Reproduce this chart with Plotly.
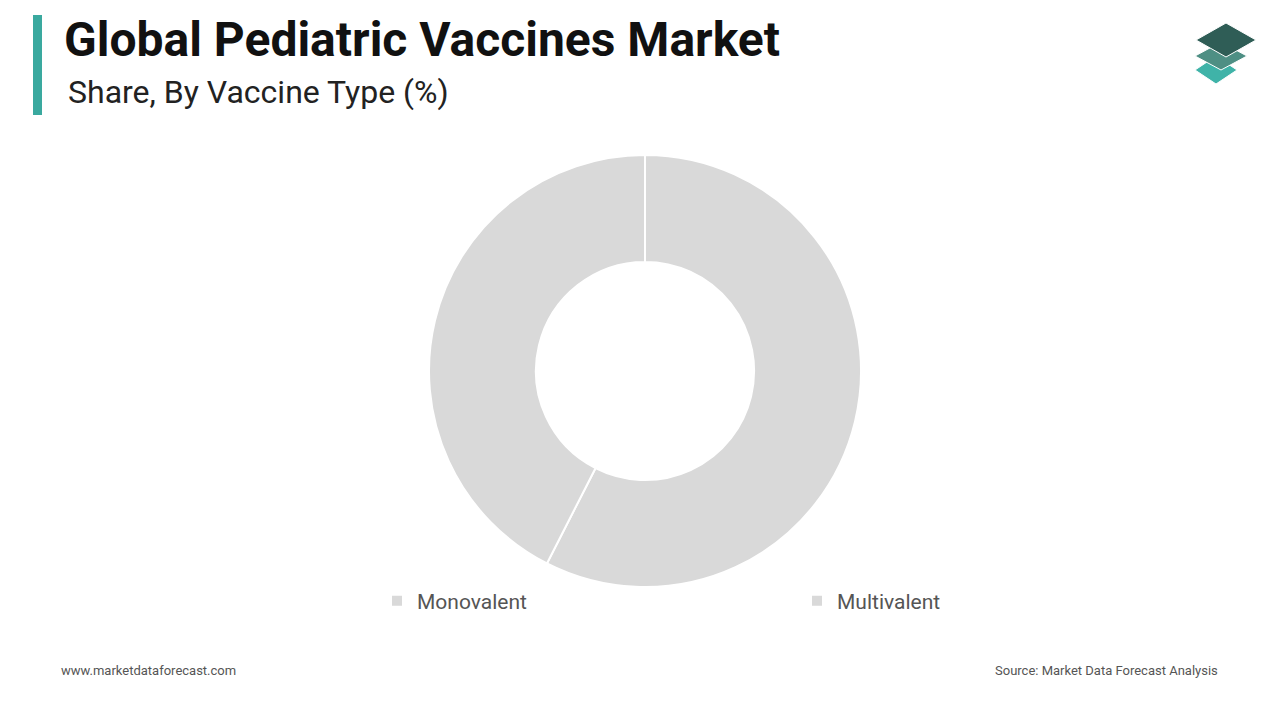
import plotly.graph_objects as go

labels = ["Multivalent", "Monovalent"]
shares = [57.5, 42.5]
colors = ["#d9d9d9", "#d9d9d9"]

W, H, OFF = 1264, 704, 8


def px(x):
    return (x - OFF) / W


def py(y):
    return 1 - (y - OFF) / H


def diamond(cx, cy, hw, hh):
    return (f"M {px(cx - hw)} {py(cy)} L {px(cx)} {py(cy - hh)} "
            f"L {px(cx + hw)} {py(cy)} L {px(cx)} {py(cy + hh)} Z")


fig = go.Figure()
fig.add_pie(labels=labels, values=shares, hole=0.505, sort=False, direction="clockwise",
            rotation=0, marker=dict(colors=colors, line=dict(color="white", width=2)),
            textinfo="none", hoverinfo="label+percent",
            domain=dict(x=[px(429), px(861)], y=[py(587), py(155)]))

fig.update_layout(
    width=W, height=H, margin=dict(l=0, r=0, t=0, b=0),
    paper_bgcolor="white", plot_bgcolor="white",
    font=dict(family="Roboto", color="#555555"),
    legend=dict(orientation="h", x=px(377), y=py(601), xanchor="left", yanchor="middle",
                traceorder="reversed", bgcolor="rgba(0,0,0,0)",
                entrywidth=375, entrywidthmode="pixels", font=dict(size=21, color="#555555")),
    shapes=[
        dict(type="rect", xref="paper", yref="paper", x0=px(33), x1=px(42), y0=py(115), y1=py(15),
             fillcolor="#3aa99f", line_width=0),
        # logo
        dict(type="path", xref="paper", yref="paper", path=diamond(1216, 70, 21, 14),
             fillcolor="#3fb3a8", line=dict(color="white", width=1)),
        dict(type="path", xref="paper", yref="paper", path=diamond(1221, 56, 26, 14),
             fillcolor="#4e8f84", line=dict(color="white", width=1)),
        dict(type="path", xref="paper", yref="paper", path=diamond(1226, 40, 30, 17),
             fillcolor="#2f5d56", line=dict(color="white", width=1)),
    ],
    annotations=[
        dict(text="<b>Global Pediatric Vaccines Market</b>", xref="paper", yref="paper",
             x=px(62), y=py(40), xanchor="left", yanchor="middle", showarrow=False,
             font=dict(size=48, color="#111111", family="Roboto")),
        dict(text="Share, By Vaccine Type (%)", xref="paper", yref="paper",
             x=px(66), y=py(92), xanchor="left", yanchor="middle", showarrow=False,
             font=dict(size=32, color="#222222", family="Roboto")),
        dict(text="www.marketdataforecast.com", xref="paper", yref="paper",
             x=px(59), y=py(670), xanchor="left", yanchor="middle", showarrow=False,
             font=dict(size=13, color="#555555")),
        dict(text="Source: Market Data Forecast Analysis", xref="paper", yref="paper",
             x=px(1220), y=py(670), xanchor="right", yanchor="middle", showarrow=False,
             font=dict(size=13, color="#555555")),
    ],
)

fig.write_html("out.html")
